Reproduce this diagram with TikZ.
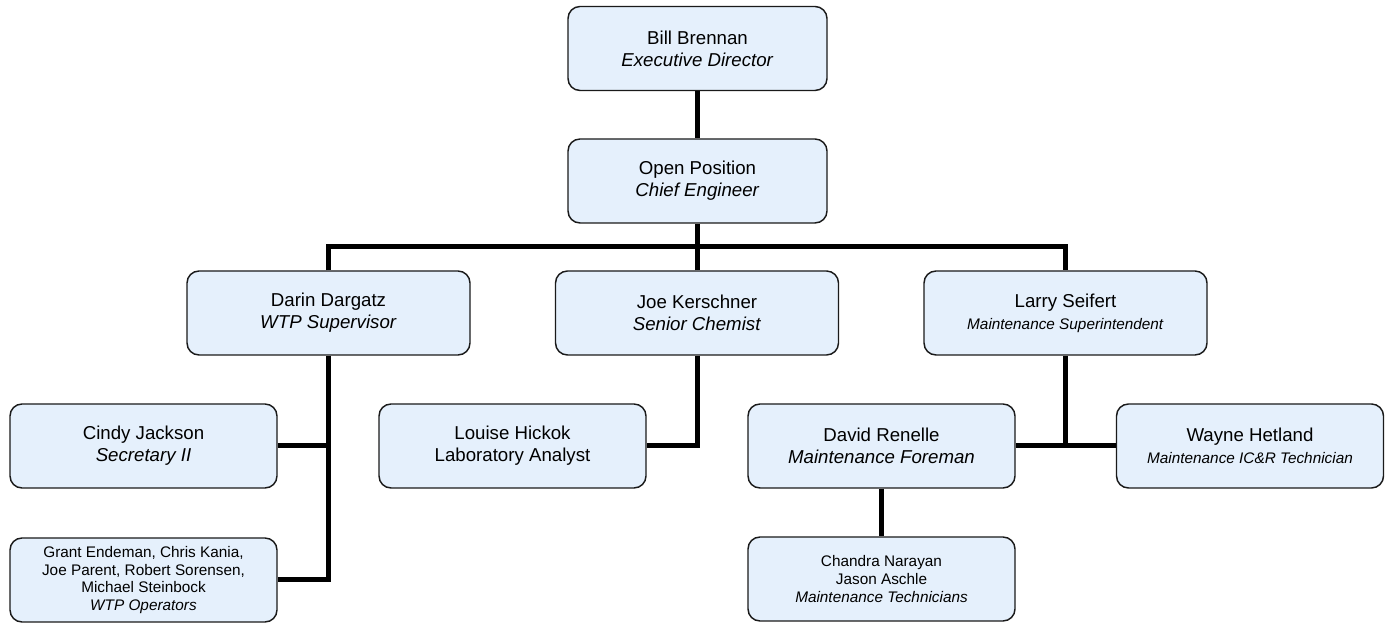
\documentclass[tikz,border=0pt]{standalone}
\usepackage{fontspec}
\setmainfont{Liberation Sans}
\usepackage{tikz}

\definecolor{boxfill}{HTML}{E5F0FC}
\definecolor{boxline}{HTML}{1A1A1A}
\newcommand{\smallsize}{\fontsize{11.5}{13.3}\selectfont}

\tikzset{
  person/.style={rectangle, rounded corners=9pt, draw=boxline, line width=1.1pt,
    fill=boxfill, align=center, inner sep=0pt, minimum height=63pt,
    minimum width=200.25pt, font=\fontsize{14}{16.5}\selectfont},
  wideperson/.style={person, minimum width=212.25pt},
  topperson/.style={person, minimum width=194.25pt},
  smalltext/.style={font=\smallsize},
  link/.style={line width=3.75pt, black}
}

\begin{document}
\begin{tikzpicture}[x=0.75pt, y=-0.75pt]
\useasboundingbox (0,0) rectangle (1390,623);

\node [topperson] (bill) at (697.5,48.5) {Bill Brennan\\\textit{Executive Director}};
\node [topperson] (open) at (697.5,181) {Open Position\\\textit{Chief Engineer}};

\node [wideperson] (darin) at (328.5,313) {Darin Dargatz\\\textit{WTP Supervisor}};
\node [wideperson] (joe) at (697,313) {Joe Kerschner\\\textit{Senior Chemist}};
\node [wideperson] (larry) at (1065.5,313) {Larry Seifert\\{\smallsize\textit{Maintenance Superintendent}}};

\node [person] (cindy) at (143.5,446) {Cindy Jackson\\\textit{Secretary II}};
\node [person, smalltext] (grant) at (143.5,580) {Grant Endeman, Chris Kania,\\Joe Parent, Robert Sorensen,\\Michael Steinbock\\\textit{WTP Operators}};
\node [person] (louise) at (512.5,446) {Louise Hickok\\Laboratory Analyst};
\node [person] (david) at (881.5,446) {David Renelle\\\textit{Maintenance Foreman}};
\node [person] (wayne) at (1250,446) {Wayne Hetland\\{\smallsize\textit{Maintenance IC\&R Technician}}};
\node [person, smalltext] (chandra) at (881.5,579) {Chandra Narayan\\Jason Aschle\\\textit{Maintenance Technicians}};

% connectors
\coordinate (bar) at (697.5,247);
\draw [link] (bill.south) -- (open.north);
\draw [link] (open.south) -- (bar);
\draw [link] (darin.north) |- (bar) -| (larry.north);
\draw [link] (joe.north) -- (joe.north |- bar);
\draw [link] (darin.south) |- (grant.east);
\draw [link] (cindy.east) -- (cindy.east -| darin.south);
\draw [link] (joe.south) |- (louise.east);
\draw [link] (larry.south) -- (larry.south |- wayne.west);
\draw [link] (david.east) -- (wayne.west);
\draw [link] (david.south) -- (chandra.north);
\end{tikzpicture}
\end{document}
